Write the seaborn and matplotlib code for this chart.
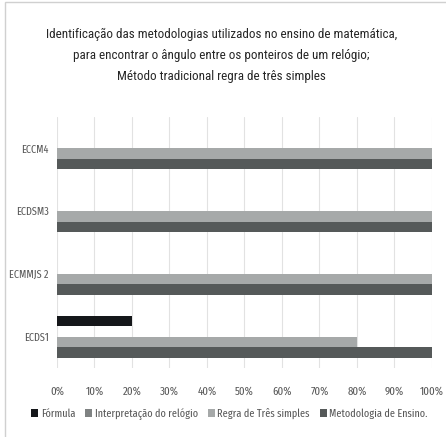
import matplotlib
matplotlib.use("Agg")
import matplotlib.pyplot as plt
from matplotlib.patches import Rectangle
from matplotlib.ticker import FuncFormatter
import pandas as pd
import seaborn as sns

escolas = ["ECCM4", "ECDSM3", "ECMMJS 2", "ECDS1"]
series = ["Fórmula", "Interpretação do relógio", "Regra de Três simples",
          "Metodologia de Ensino."]
formula = [0, 0, 0, 20]
interpretacao = [0, 0, 0, 0]
regra_tres = [100, 100, 100, 80]
metodologia = [100, 100, 100, 100]
ticks = [0, 10, 20, 30, 40, 50, 60, 70, 80, 90, 100]
titulo = ("Identificação das metodologias utilizados no ensino de matemática,\n"
          "para encontrar o ângulo entre os ponteiros de um relógio;\n"
          "Método tradicional regra de três simples")

cores = ["#15171a", "#7f8282", "#a6a9a9", "#555959"]
texto = "#595959"

sns.set_theme(style="white")
plt.rcParams["font.family"] = ["Fira Sans Extra Condensed", "Roboto Condensed",
                               "DejaVu Sans"]

df = pd.DataFrame({
    "escola": escolas * 4,
    "serie": sum([[s] * len(escolas) for s in series], []),
    "valor": formula + interpretacao + regra_tres + metodologia,
})

fig = plt.figure(figsize=(4.46, 4.37), dpi=100)
ax = fig.add_axes([0.1278, 0.1579, 0.8408, 0.5744])

sns.barplot(data=df, y="escola", x="valor", hue="serie", order=escolas,
            hue_order=series, palette=cores, orient="h", width=0.67,
            saturation=1, linewidth=0, ax=ax, legend=True)

ax.set_xlim(0, 100)
ax.set_xticks(ticks)
ax.xaxis.set_major_formatter(FuncFormatter(lambda v, p: f"{int(v)}%"))
ax.set_xlabel("")
ax.set_ylabel("")
ax.grid(axis="x", color="#e2e2e2", linewidth=0.8)
ax.set_axisbelow(True)
for s in ax.spines.values():
    s.set_visible(False)
ax.tick_params(axis="x", length=0, colors=texto, labelsize=8.5, pad=13)
ax.tick_params(axis="y", length=0, colors=texto, labelsize=8, pad=6)

handles, labels = ax.get_legend_handles_labels()
ax.get_legend().remove()
fig.legend(handles, labels, loc="center", bbox_to_anchor=(0.515, 0.053),
           ncol=4, frameon=False, fontsize=8, handlelength=0.6,
           handleheight=0.6, handletextpad=0.25, columnspacing=0.9,
           labelcolor=texto)

fig.text(0.497, 0.874, titulo, ha="center", va="center", fontsize=9.4,
         color="#262626", linespacing=1.8,
         family=["Roboto Condensed", "Archivo Narrow", "DejaVu Sans"])

fig.patches.append(Rectangle((5 / 446, -0.1), 1.2, 1.1 - 2 / 437,
                             transform=fig.transFigure, fill=False,
                             edgecolor="#d0d0d0", linewidth=1))

fig.savefig("out.png", dpi=100)
